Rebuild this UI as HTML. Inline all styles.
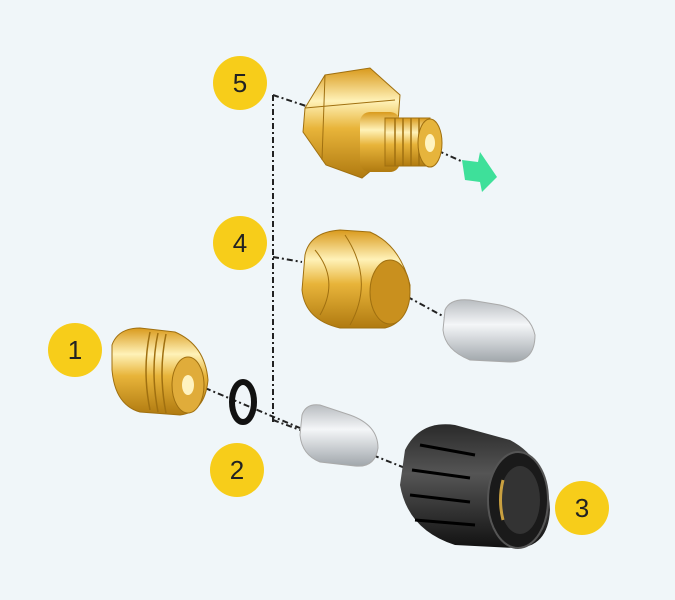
<!DOCTYPE html>
<html><head><meta charset="utf-8"><style>
html,body{margin:0;padding:0;background:#f0f6f9;}
svg{display:block}
text{font-family:"Liberation Sans",sans-serif;font-size:26px;fill:#222;text-anchor:middle}
</style></head><body>
<svg width="675" height="600" viewBox="0 0 675 600" xmlns="http://www.w3.org/2000/svg">
<defs>
<linearGradient id="br" x1="0" y1="0" x2="0" y2="1">
<stop offset="0" stop-color="#d99a1c"/><stop offset="0.3" stop-color="#fff2b8"/><stop offset="0.55" stop-color="#e8b43a"/><stop offset="1" stop-color="#b07a10"/></linearGradient>
<linearGradient id="si" x1="0" y1="0" x2="0" y2="1">
<stop offset="0" stop-color="#b8bcc0"/><stop offset="0.4" stop-color="#f4f6f8"/><stop offset="1" stop-color="#a0a6ab"/></linearGradient>
<linearGradient id="bk" x1="0" y1="0" x2="0" y2="1">
<stop offset="0" stop-color="#2a2a2a"/><stop offset="0.4" stop-color="#555"/><stop offset="1" stop-color="#111"/></linearGradient>
</defs>
<rect width="675" height="600" fill="#f0f6f9"/>
<g stroke="#222" stroke-width="2" stroke-dasharray="6,3,2,3" fill="none">
<line x1="273" y1="95" x2="273" y2="422"/>
<line x1="273" y1="95" x2="312" y2="108"/>
<line x1="273" y1="257" x2="302" y2="262"/>
<line x1="273" y1="420" x2="300" y2="430"/>
<line x1="205" y1="388" x2="300" y2="428"/>
<line x1="425" y1="145" x2="470" y2="165"/>
<line x1="395" y1="290" x2="450" y2="320"/>
<line x1="360" y1="450" x2="410" y2="470"/>
</g>
<!-- top brass adapter -->
<polygon points="305,108 325,75 370,68 400,95 396,150 362,178 326,165 303,132" fill="url(#br)" stroke="#a07010"/>
<g stroke="#a07010" fill="none"><line x1="325" y1="75" x2="322" y2="160"/><line x1="305" y1="108" x2="395" y2="100"/></g>
<rect x="360" y="112" width="40" height="60" rx="10" fill="url(#br)"/>
<rect x="385" y="118" width="45" height="48" fill="url(#br)" stroke="#a07010"/>
<g stroke="#a07010" stroke-width="1.5"><line x1="395" y1="118" x2="395" y2="166"/><line x1="403" y1="118" x2="403" y2="166"/><line x1="411" y1="118" x2="411" y2="166"/><line x1="419" y1="118" x2="419" y2="166"/></g>
<ellipse cx="430" cy="143" rx="12" ry="24" fill="#e6b43c" stroke="#a07010"/>
<ellipse cx="430" cy="143" rx="5" ry="9" fill="#fff3c0"/>
<polygon points="462,160 478,162 480,152 497,177 482,192 480,182 465,180" fill="#3ee09a"/>
<!-- nut 4 -->
<path d="M305,255 Q310,232 340,230 L370,232 Q400,245 410,285 Q410,322 385,328 L340,328 Q305,320 302,290 Z" fill="url(#br)" stroke="#a07010"/>
<path d="M315,250 Q340,280 320,315 M345,235 Q375,280 350,325" stroke="#a07010" fill="none"/>
<ellipse cx="390" cy="292" rx="20" ry="32" fill="#c9901e" stroke="#a07010"/>
<!-- silver nozzle top -->
<path d="M445,310 Q450,298 470,300 L500,305 Q530,312 535,335 Q535,362 510,362 L470,360 Q445,350 443,330 Z" fill="url(#si)" stroke="#aaa"/>
<!-- part 1 -->
<path d="M112,345 Q118,328 140,328 L175,332 Q205,345 208,380 Q205,412 180,415 L140,412 Q115,405 112,370 Z" fill="url(#br)" stroke="#a07010"/>
<g stroke="#a07010" stroke-width="1.5" fill="none"><path d="M150,332 Q142,370 150,410"/><path d="M158,333 Q150,370 158,412"/><path d="M166,334 Q158,372 166,413"/></g>
<ellipse cx="188" cy="385" rx="16" ry="28" fill="#e0ac3a" stroke="#a07010"/>
<ellipse cx="188" cy="385" rx="6" ry="10" fill="#fff3c0"/>
<!-- o-ring -->
<ellipse cx="243" cy="402" rx="11" ry="20" fill="none" stroke="#111" stroke-width="6"/>
<!-- small silver nozzle -->
<path d="M302,415 Q306,403 320,405 L350,415 Q378,425 378,448 Q375,468 355,466 L320,462 Q302,455 300,435 Z" fill="url(#si)" stroke="#aaa"/>
<!-- black knob -->
<path d="M405,450 Q420,420 455,425 L510,440 Q548,460 550,510 Q548,548 515,548 L455,545 Q408,530 400,485 Z" fill="url(#bk)"/>
<ellipse cx="518" cy="500" rx="30" ry="48" fill="#1a1a1a" stroke="#555" stroke-width="2"/>
<ellipse cx="520" cy="500" rx="20" ry="34" fill="#333"/>
<path d="M503,480 Q498,500 503,520" stroke="#c9a040" stroke-width="3" fill="none"/>
<g stroke="#000" stroke-width="3">
<line x1="420" y1="445" x2="475" y2="455"/><line x1="412" y1="470" x2="470" y2="478"/>
<line x1="410" y1="495" x2="470" y2="502"/><line x1="415" y1="520" x2="475" y2="525"/>
</g>
<!-- labels -->
<g fill="#f7cd1a">
<circle cx="75" cy="350" r="27"/><circle cx="237" cy="470" r="27"/><circle cx="582" cy="508" r="27"/>
<circle cx="240" cy="243" r="27"/><circle cx="240" cy="83" r="27"/>
</g>
<text x="75" y="359">1</text><text x="237" y="479">2</text><text x="582" y="517">3</text>
<text x="240" y="252">4</text><text x="240" y="92">5</text>
</svg>
</body></html>
